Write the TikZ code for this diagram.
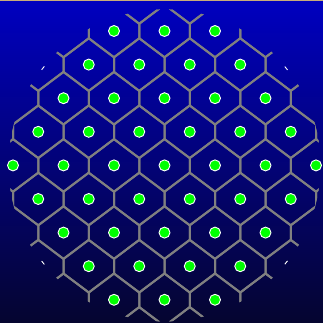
\documentclass[tikz,border=0pt]{standalone}
\usetikzlibrary{calc}

\definecolor{skytop}{RGB}{0,0,192}
\definecolor{skybottom}{RGB}{5,5,48}
\definecolor{rimgold}{RGB}{200,172,122}

\begin{document}
\begin{tikzpicture}[
  x=1pt, y=1pt,
  hexline/.style={draw=gray, line width=2pt, line join=miter},
  site/.style={circle, fill=green, draw=white, line width=0.9pt, minimum size=11pt, inner sep=0pt},
  rimtick/.style={white, line width=0.9pt},
]

% === BACKGROUND ===
\useasboundingbox (0,0) rectangle (323,322);
\shade[top color=skytop, bottom color=skybottom] (0,0) rectangle (323,322);
\draw[rimgold, line width=1pt] (0,321.5) -- (323,321.5);

\coordinate (C) at (164.5,156.6);

% === HEXAGONAL CELLS, CUT BY THE DISC ===
\begin{scope}
  \clip (C) circle (156pt);
  \foreach \k in {-5,...,5} {
    \foreach \j in {-4,...,4} {
      \pgfmathsetmacro\cx{164.5+50.5*\j+25.25*mod(abs(\k),2)}
      \pgfmathsetmacro\cy{156.6+33.6*\k}
      \draw[hexline, shift={(\cx,\cy)}]
        (0,26.3) -- (25.25,7.3) -- (25.25,-7.3) -- (0,-26.3)
        -- (-25.25,-7.3) -- (-25.25,7.3) -- cycle;
    }
  }
\end{scope}

% small bits of the rim
\foreach \a in {38.6,141.3,218.7,321.4}
  \draw[rimtick] ($(C)+(\a-0.8:155.7pt)$) arc[start angle=\a-0.8, end angle=\a+0.8, radius=155.7pt];

% === SITES ===
\foreach \r in {1,...,9} {
  \pgfmathtruncatemacro\n{7-abs(\r-5)}
  \foreach \i in {1,...,\n} {
    \pgfmathsetmacro\sx{164.5+50.5*(\i-(\n+1)/2)}
    \pgfmathsetmacro\sy{156.6+33.6*(\r-5)}
    \node[site] (s\r-\i) at (\sx,\sy) {};
  }
}
\end{tikzpicture}
\end{document}
